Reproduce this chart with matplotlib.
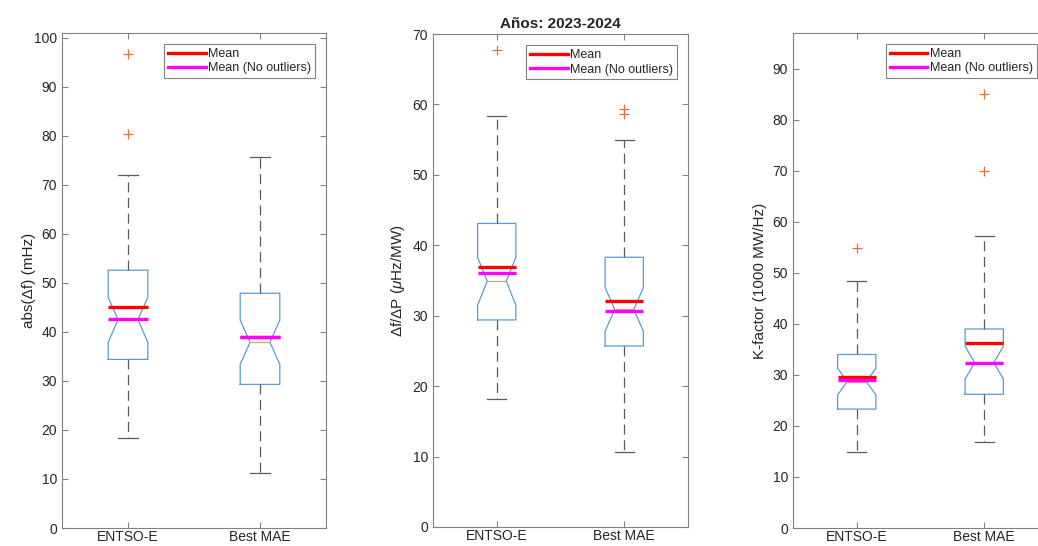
import matplotlib
matplotlib.use("Agg")
import matplotlib.pyplot as plt
from matplotlib.lines import Line2D

plt.rcParams['font.family'] = ['Liberation Sans', 'DejaVu Sans']
plt.rcParams['mathtext.fontset'] = 'custom'
plt.rcParams['mathtext.it'] = 'Liberation Sans:italic'
plt.rcParams['mathtext.rm'] = 'Liberation Sans'

categories = ["ENTSO-E", "Best MAE"]
title = "Años: 2023-2024"
ylabels = ["abs(Δf) (mHz)", "Δf/ΔP ($\\mu$Hz/MW)", "K-factor (1000 MW/Hz)"]
ylims = [101, 70, 97]
ytick_max = [100, 70, 90]

# per panel, per category
medians = [[42.5, 37.9], [34.9, 30.9], [28.7, 32.4]]
q1s = [[34.4, 29.3], [29.4, 25.7], [23.3, 26.2]]
q3s = [[52.6, 47.9], [43.1, 38.3], [34.0, 39.0]]
whislo = [[18.4, 11.2], [18.2, 10.7], [14.8, 16.8]]
whishi = [[72.1, 75.8], [58.4, 55.0], [48.4, 57.3]]
notch_lo = [[37.9, 33.4], [31.5, 27.8], [26.1, 29.2]]
notch_hi = [[47.0, 42.4], [38.3, 34.0], [31.3, 35.6]]
outliers = [[[80.4, 96.8], []], [[67.7], [58.6, 59.4]], [[54.8], [69.9, 85.0]]]
means = [[45.0, 38.9], [36.9, 32.1], [29.5, 36.3]]
means_no_outliers = [[42.6, 38.9], [36.0, 30.7], [29.0, 32.4]]

W, H = 1038, 546
fig = plt.figure(figsize=(W / 100, H / 100), dpi=100)
# axes boxes in pixels: left, top, right, bottom
px_boxes = [(62, 33, 326, 528), (433, 34, 688, 527), (793, 33, 1048, 528)]
ylabel_x = [-0.100, None, None]

box_color = '#5a9bd5'
med_color = '#f0956a'
whisk_color = '#5a5a5a'
axis_color = '#808080'
text_color = '#262626'
box_w = 0.3
positions = [1, 2]

for i in range(3):
    l, t, r, b = px_boxes[i]
    ax = fig.add_axes([l / W, (H - b) / H, (r - l) / W, (b - t) / H])
    stats = []
    for j in range(2):
        stats.append(dict(med=medians[i][j], q1=q1s[i][j], q3=q3s[i][j],
                          whislo=whislo[i][j], whishi=whishi[i][j],
                          cilo=notch_lo[i][j], cihi=notch_hi[i][j],
                          fliers=outliers[i][j], label=categories[j]))
    ax.bxp(stats, positions=positions, widths=box_w, shownotches=True,
           boxprops=dict(color=box_color, linewidth=0.9),
           medianprops=dict(color=med_color, linewidth=0.9),
           whiskerprops=dict(color=whisk_color, linewidth=0.9, linestyle=(0, (8, 4.5))),
           capprops=dict(color=whisk_color, linewidth=0.9),
           flierprops=dict(marker='+', markeredgecolor='#e8703a', markersize=7,
                           markeredgewidth=0.9, linestyle='none'))
    for j, p in enumerate(positions):
        ax.hlines(means[i][j], p - box_w / 2, p + box_w / 2, color='red',
                  linewidth=2.4, zorder=5)
        ax.hlines(means_no_outliers[i][j], p - box_w / 2, p + box_w / 2,
                  color='magenta', linewidth=2.4, zorder=6)
    ax.set_xlim(0.5, 2.5)
    ax.set_ylim(0, ylims[i])
    ax.set_yticks(range(0, ytick_max[i] + 1, 10))
    ax.set_xticks(positions)
    ax.set_xticklabels(categories)
    ax.tick_params(direction='in', top=True, right=True, length=4,
                   color=axis_color, labelcolor=text_color, labelsize=10, width=0.8)
    ax.tick_params(axis='x', pad=1.5)
    for s in ax.spines.values():
        s.set_color(axis_color)
        s.set_linewidth(0.8)
    ax.set_ylabel(ylabels[i], fontsize=11, color=text_color)
    if ylabel_x[i] is not None:
        ax.yaxis.set_label_coords(ylabel_x[i], 0.5)
    handles = [Line2D([], [], color='red', linewidth=2.4),
               Line2D([], [], color='magenta', linewidth=2.4)]
    leg = ax.legend(handles, ["Mean", "Mean (No outliers)"], loc='upper right',
                    fontsize=9, handlelength=3.0, handletextpad=0.2,
                    labelspacing=0.2, borderpad=0.3, borderaxespad=0.9,
                    fancybox=False, framealpha=1, edgecolor=axis_color)
    leg.get_frame().set_linewidth(0.8)
    for tx in leg.get_texts():
        tx.set_color(text_color)
    if i == 1:
        ax.set_title(title, fontsize=11, fontweight='bold', color=text_color, pad=4)

fig.savefig("out.png", dpi=100)
